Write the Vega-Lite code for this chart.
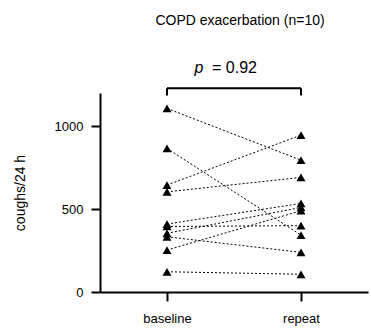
{
  "$schema": "https://vega.github.io/schema/vega-lite/v6.json",
  "width": 268,
  "height": 199,
  "autosize": "none",
  "padding": {"left": 100, "top": 93, "right": 3, "bottom": 39},
  "background": "white",
  "config": {
    "view": {"stroke": null},
    "font": "Liberation Sans",
    "axis": {
      "domainColor": "black", "domainWidth": 2, "tickColor": "black", "tickWidth": 2, "tickSize": 9,
      "labelColor": "black", "labelFont": "Liberation Sans", "labelFontSize": 13,
      "titleColor": "black", "titleFont": "Liberation Sans", "titleFontSize": 14, "titleFontWeight": "normal",
      "grid": false
    }
  },
  "title": {
    "text": "COPD exacerbation (n=10)",
    "font": "Liberation Sans", "fontSize": 14, "fontWeight": "normal", "color": "black",
    "anchor": "middle", "dx": 6, "offset": 32
  },
  "datasets": {
    "coughs": [
      {"subject": 1, "visit": "baseline", "coughs": 1107}, {"subject": 1, "visit": "repeat", "coughs": 795},
      {"subject": 2, "visit": "baseline", "coughs": 866}, {"subject": 2, "visit": "repeat", "coughs": 343},
      {"subject": 3, "visit": "baseline", "coughs": 645}, {"subject": 3, "visit": "repeat", "coughs": 946},
      {"subject": 4, "visit": "baseline", "coughs": 604}, {"subject": 4, "visit": "repeat", "coughs": 691},
      {"subject": 5, "visit": "baseline", "coughs": 410}, {"subject": 5, "visit": "repeat", "coughs": 534},
      {"subject": 6, "visit": "baseline", "coughs": 395}, {"subject": 6, "visit": "repeat", "coughs": 400},
      {"subject": 7, "visit": "baseline", "coughs": 354}, {"subject": 7, "visit": "repeat", "coughs": 510},
      {"subject": 8, "visit": "baseline", "coughs": 333}, {"subject": 8, "visit": "repeat", "coughs": 239},
      {"subject": 9, "visit": "baseline", "coughs": 253}, {"subject": 9, "visit": "repeat", "coughs": 490},
      {"subject": 10, "visit": "baseline", "coughs": 122}, {"subject": 10, "visit": "repeat", "coughs": 107}
    ],
    "test": [
      {"from": "baseline", "to": "repeat", "p": "=  0.92"}
    ]
  },
  "layer": [
    {
      "data": {"name": "coughs"},
      "mark": {"type": "line", "color": "black", "strokeWidth": 1, "strokeDash": [2, 2]},
      "encoding": {
        "x": {
          "field": "visit", "type": "nominal",
          "scale": {"type": "point", "padding": 0.5, "domain": ["baseline", "repeat"]},
          "axis": {"title": null, "labelAngle": 0, "labelPadding": 11}
        },
        "y": {
          "field": "coughs", "type": "quantitative",
          "scale": {"domain": [0, 1200], "nice": false},
          "axis": {"title": "coughs/24 h", "values": [0, 500, 1000], "format": "d", "labelPadding": 8, "titlePadding": 27}
        },
        "detail": {"field": "subject", "type": "nominal"}
      }
    },
    {
      "data": {"name": "coughs"},
      "mark": {"type": "point", "shape": "triangle-up", "filled": true, "color": "black", "opacity": 1, "size": 80},
      "encoding": {
        "x": {"field": "visit", "type": "nominal"},
        "y": {"field": "coughs", "type": "quantitative"}
      }
    },
    {
      "data": {"name": "test"},
      "mark": {"type": "rule", "color": "black", "strokeWidth": 2},
      "encoding": {
        "x": {"field": "from", "type": "nominal"},
        "x2": {"field": "to"},
        "y": {"datum": 1228}
      }
    },
    {
      "data": {"name": "test"},
      "mark": {"type": "rule", "color": "black", "strokeWidth": 2},
      "encoding": {
        "x": {"field": "from", "type": "nominal"},
        "y": {"datum": 1228},
        "y2": {"datum": 1185}
      }
    },
    {
      "data": {"name": "test"},
      "mark": {"type": "rule", "color": "black", "strokeWidth": 2},
      "encoding": {
        "x": {"field": "to", "type": "nominal"},
        "y": {"datum": 1228},
        "y2": {"datum": 1185}
      }
    },
    {
      "data": {"name": "test"},
      "mark": {"type": "text", "text": "p", "fontStyle": "italic", "fontSize": 16, "color": "black", "align": "center", "baseline": "alphabetic", "dx": 32},
      "encoding": {
        "x": {"field": "from", "type": "nominal"},
        "y": {"datum": 1320}
      }
    },
    {
      "data": {"name": "test"},
      "mark": {"type": "text", "fontSize": 16, "color": "black", "align": "left", "baseline": "alphabetic", "dx": 45},
      "encoding": {
        "x": {"field": "from", "type": "nominal"},
        "y": {"datum": 1320},
        "text": {"field": "p"}
      }
    }
  ]
}
